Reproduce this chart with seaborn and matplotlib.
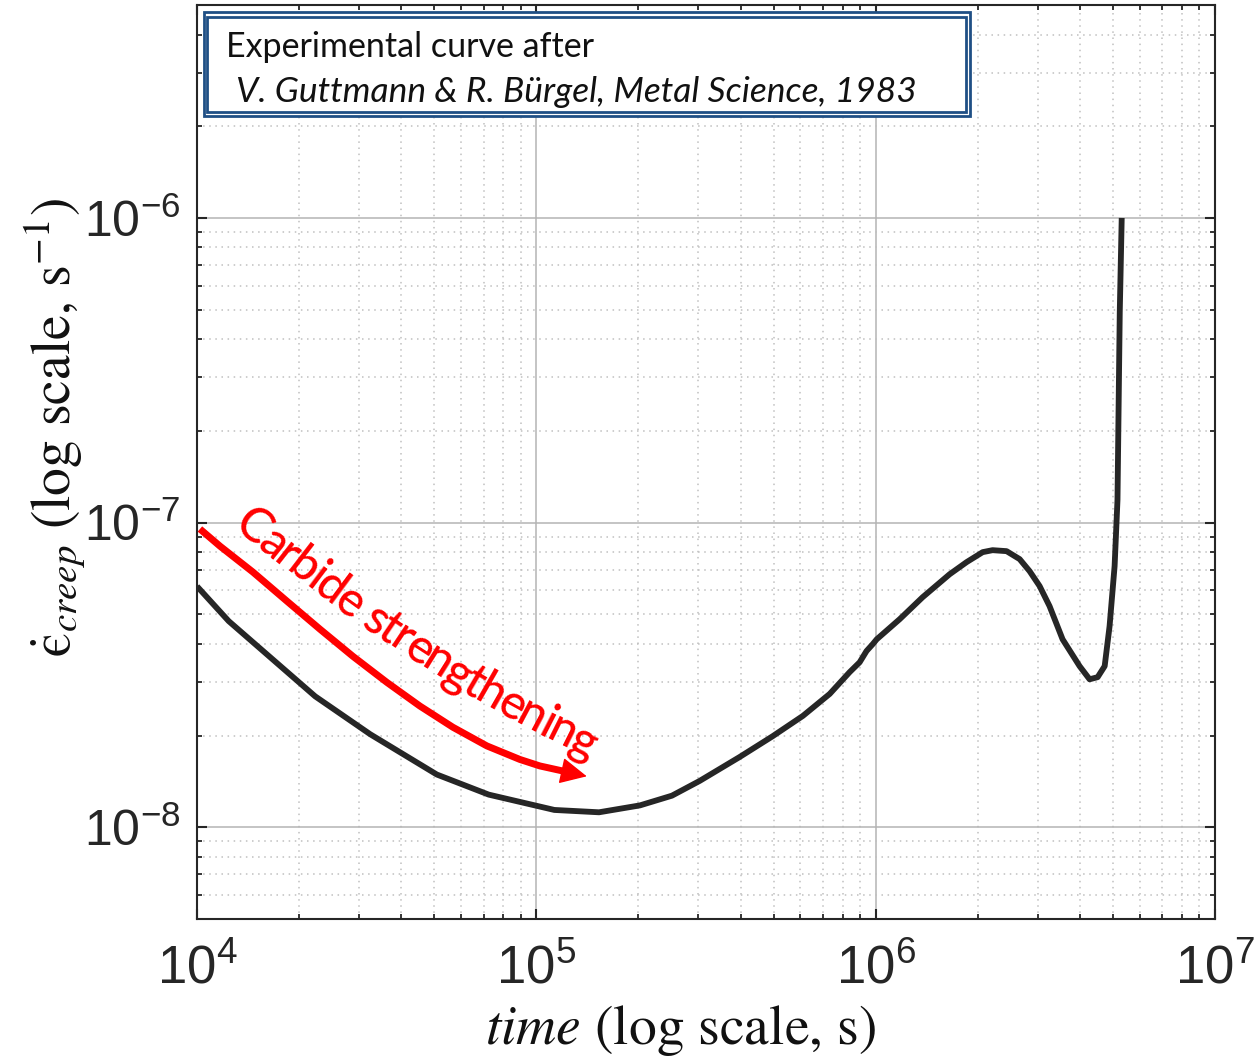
import numpy as np
import pandas as pd
import matplotlib
matplotlib.use("Agg")
import matplotlib.pyplot as plt
import seaborn as sns
from matplotlib.patches import Rectangle
from matplotlib.ticker import LogLocator, NullFormatter
from matplotlib.font_manager import FontProperties

# ---------------- data ----------------
time_s = [1.0e4, 1.24e4, 2.23e4, 3.24e4, 5.09e4, 7.24e4, 1.13e5, 1.53e5, 2.02e5,
          2.51e5, 3.03e5, 3.97e5, 4.97e5, 6.10e5, 7.32e5, 8.38e5, 8.97e5, 9.40e5,
          9.80e5, 1.007e6, 1.177e6, 1.375e6, 1.652e6, 1.854e6, 2.067e6, 2.211e6,
          2.431e6, 2.656e6, 2.842e6, 3.042e6, 3.254e6, 3.555e6, 3.678e6, 3.99e6,
          4.27e6, 4.51e6, 4.73e6, 4.89e6, 5.06e6, 5.16e6, 5.19e6, 5.24e6, 5.31e6]
creep_rate = [6.18e-8, 4.75e-8, 2.69e-8, 2.02e-8, 1.49e-8, 1.28e-8, 1.14e-8, 1.12e-8, 1.18e-8,
              1.27e-8, 1.42e-8, 1.70e-8, 1.99e-8, 2.32e-8, 2.74e-8, 3.23e-8, 3.48e-8, 3.79e-8,
              3.99e-8, 4.14e-8, 4.82e-8, 5.69e-8, 6.77e-8, 7.42e-8, 8.00e-8, 8.12e-8,
              8.06e-8, 7.59e-8, 6.93e-8, 6.19e-8, 5.32e-8, 4.14e-8, 3.90e-8, 3.38e-8,
              3.06e-8, 3.11e-8, 3.38e-8, 4.57e-8, 7.20e-8, 1.19e-7, 2.03e-7, 4.91e-7, 1.00e-6]

arrow_time = [1.02e4, 1.169e4, 1.462e4, 1.842e4, 2.303e4, 2.881e4, 3.627e4, 4.538e4,
              5.677e4, 7.147e4, 8.941e4, 1.024e5, 1.197e5]
arrow_rate = [9.53e-8, 8.37e-8, 6.88e-8, 5.52e-8, 4.47e-8, 3.64e-8, 2.99e-8, 2.50e-8,
              2.13e-8, 1.85e-8, 1.67e-8, 1.59e-8, 1.53e-8]
arrow_tip = (1.408e5, 1.47e-8)

x_ticks = [1e4, 1e5, 1e6, 1e7]
y_ticks = [1e-8, 1e-7, 1e-6]
x_lim = (1e4, 1e7)
y_lim = (5e-9, 5e-6)

note_line1 = "Experimental curve after"
note_line2 = "V. Guttmann & R. Bürgel, Metal Science, 1983"
arrow_label = "Carbide strengthening"
x_label = r"$\mathit{time}$ (log scale, s)"
y_label = "$\\dot{\u03f5}_{\\mathit{creep}}$ (log scale, s$^{-1}$)"

# centre line of the curved label (layout guide, data coords)
label_guide_t = [1.47e4, 2.75e4, 3.27e4, 6.95e4, 1.41e5]
label_guide_r = [9.75e-8, 5.58e-8, 4.80e-8, 2.96e-8, 1.87e-8]

# ---------------- style ----------------
sns.set_theme(style="ticks")
plt.rcParams["font.family"] = ["Liberation Sans", "DejaVu Sans"]
plt.rcParams["mathtext.fontset"] = "stix"
plt.rcParams["mathtext.default"] = "regular"
plt.rcParams["axes.unicode_minus"] = False

LABEL_FONT, LABEL_WEIGHT, TRACK = "Lato", "medium", 0.90

DPI = 100
fig = plt.figure(figsize=(12.54, 10.59), dpi=DPI)
ax = fig.add_axes([197 / 1254, 1 - 919 / 1059, (1215 - 197) / 1254, (919 - 5) / 1059])

df = pd.DataFrame({"time": time_s, "rate": creep_rate})
sns.lineplot(data=df, x="time", y="rate", sort=False, estimator=None, ax=ax,
             color="#262626", linewidth=4.2, solid_capstyle="butt",
             solid_joinstyle="round", zorder=5)

adf = pd.DataFrame({"time": arrow_time, "rate": arrow_rate})
sns.lineplot(data=adf, x="time", y="rate", sort=False, estimator=None, ax=ax,
             color="#ff0000", linewidth=5.0, solid_capstyle="butt",
             solid_joinstyle="round", zorder=6)
ax.annotate("", xy=arrow_tip, xytext=(arrow_time[-1], arrow_rate[-1]),
            arrowprops=dict(arrowstyle="-|>,head_length=0.85,head_width=0.42",
                            mutation_scale=20, color="#ff0000", lw=1,
                            shrinkA=0, shrinkB=0), zorder=6)

ax.set_xscale("log")
ax.set_yscale("log")
ax.set_xlim(*x_lim)
ax.set_ylim(*y_lim)
ax.set_xticks(x_ticks)
ax.set_yticks(y_ticks)
ax.xaxis.set_minor_locator(LogLocator(base=10, subs=np.arange(2, 10)))
ax.yaxis.set_minor_locator(LogLocator(base=10, subs=np.arange(2, 10)))
ax.xaxis.set_minor_formatter(NullFormatter())
ax.yaxis.set_minor_formatter(NullFormatter())

ax.set_axisbelow(True)
ax.grid(which="major", color="#b4b4b4", lw=1.1, ls="-")
ax.grid(which="minor", color="#c0c0c0", lw=1.1, ls=(0, (1, 3)))

for sp in ax.spines.values():
    sp.set_color("#262626")
    sp.set_linewidth(1.5)

ax.tick_params(which="both", direction="in", top=True, right=True, color="#262626")
ax.tick_params(which="major", length=7, width=1.5)
ax.tick_params(which="minor", length=3.5, width=1.3)
ax.tick_params(axis="x", which="major", labelsize=38, pad=18, labelcolor="#262626",
               labelfontfamily="Liberation Sans")
ax.tick_params(axis="y", which="major", labelsize=36, pad=12, labelcolor="#262626",
               labelfontfamily="Liberation Sans")

ax.set_xlabel(x_label, fontsize=40, family="STIXGeneral", color="#111111")
ax.set_ylabel(y_label, fontsize=40, family="STIXGeneral", color="#111111")
ax.xaxis.set_label_coords(0.475, -0.092)
ax.yaxis.set_label_coords(-0.107, 0.538)

# --- annotation box (double border) ---
box_col = "#1f4f85"
ax.add_patch(Rectangle((0.0065, 0.8786), 0.7525, 0.1134, transform=ax.transAxes,
                       facecolor="white", edgecolor=box_col, lw=2.0, zorder=7))
ax.add_patch(Rectangle((0.0100, 0.8833), 0.7455, 0.1040, transform=ax.transAxes,
                       facecolor="none", edgecolor=box_col, lw=2.0, zorder=8))
ax.text(0.0285, 0.943, note_line1, transform=ax.transAxes, fontsize=24.5,
        family="Lato", color="#111111", va="baseline", ha="left", zorder=9)
ax.text(0.0383, 0.8942, note_line2, transform=ax.transAxes, fontsize=25.5,
        family="Lato", style="italic", color="#111111", va="baseline", ha="left", zorder=9)

# --- curved red label ---
fig.canvas.draw()
renderer = fig.canvas.get_renderer()
pts = ax.transData.transform(np.column_stack([label_guide_t, label_guide_r]))
px, py = pts[:, 0], pts[:, 1]
coef = np.polyfit(px, py, 2)
xs = np.linspace(px[0] - 80, px[-1] + 80, 4000)
ys = np.polyval(coef, xs)
arc = np.concatenate([[0], np.cumsum(np.hypot(np.diff(xs), np.diff(ys)))])
s_start = np.interp(px[0], xs, arc)
s_end = np.interp(px[-1], xs, arc)


def text_w(txt, prop):
    return renderer.get_text_width_height_descent(txt, prop, ismath=False)[0]


def advances(prop):
    sp = text_w("a a", prop) - text_w("aa", prop)
    adv = []
    for i, ch in enumerate(arrow_label):
        if ch == " ":
            adv.append(sp)
        else:
            adv.append(text_w(arrow_label[: i + 1].replace(" ", "a"), prop)
                       - (text_w(arrow_label[:i].replace(" ", "a"), prop) if i else 0.0))
    return np.array(adv)


prop_ref = FontProperties(family=LABEL_FONT, weight=LABEL_WEIGHT, size=10)
adv_ref = advances(prop_ref) * TRACK
span_ref = adv_ref.sum() - adv_ref[0] / 2 - adv_ref[-1] / 2
fs = 10 * (s_end - s_start) / span_ref
prop = FontProperties(family=LABEL_FONT, weight=LABEL_WEIGHT, size=fs)
adv = advances(prop) * TRACK
em_px = fs * DPI / 72
offset = 0.30 * em_px
cum = np.concatenate([[0], np.cumsum(adv)[:-1]])
for ch, c0, a in zip(arrow_label, cum, adv):
    if ch == " ":
        continue
    s_c = s_start + c0 + a / 2 - adv[0] / 2
    xc = np.interp(s_c, arc, xs)
    yc = np.interp(s_c, arc, ys)
    slope = np.polyval(np.polyder(coef), xc)
    ang = np.arctan2(slope, 1.0)
    bx = xc + offset * np.sin(ang)
    by = yc - offset * np.cos(ang)
    fig.text(bx / fig.bbox.width, by / fig.bbox.height, ch, fontproperties=prop,
             color="#ff0000", rotation=np.degrees(ang), rotation_mode="anchor",
             ha="center", va="baseline", zorder=10)

fig.savefig("out.png", dpi=DPI)
